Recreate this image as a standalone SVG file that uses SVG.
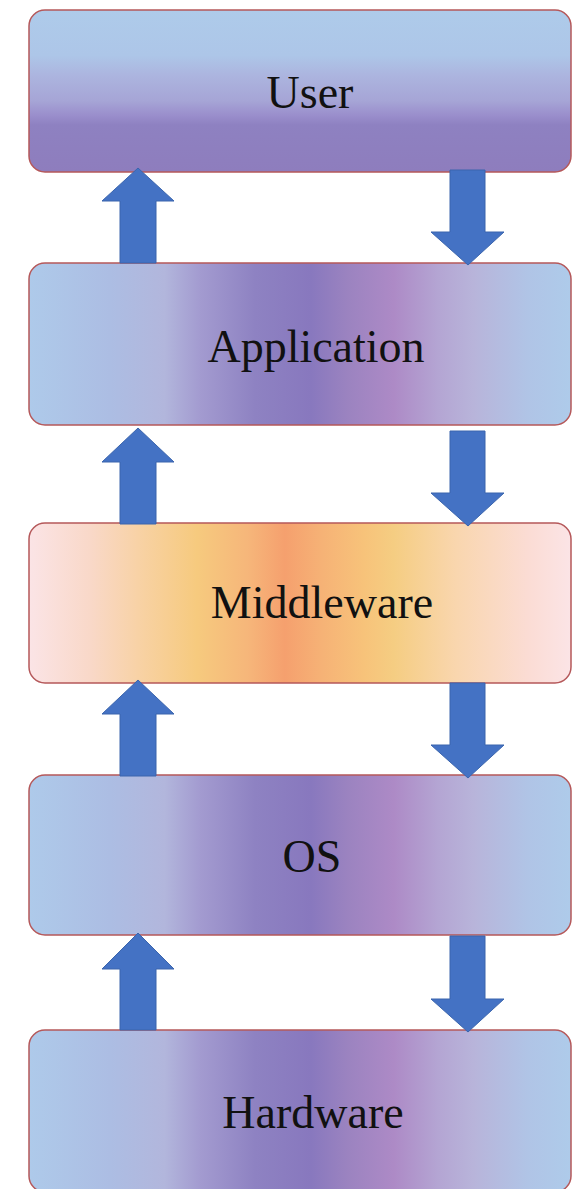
<svg xmlns="http://www.w3.org/2000/svg" width="572" height="1189" viewBox="0 0 572 1189">
<style>
.box{stroke:#b5585a;stroke-width:1.5}
.lbl{font-family:"Liberation Serif",serif;font-size:46px;fill:#111;text-anchor:middle}
.arr{fill:#4472c4;stroke:#3b65ad;stroke-width:1}
</style>
<defs>
<linearGradient id="gUser" x1="0" y1="0" x2="0" y2="1">
<stop offset="0" stop-color="#aecbea"/>
<stop offset="0.28" stop-color="#adc6e8"/>
<stop offset="0.4" stop-color="#acb5df"/>
<stop offset="0.56" stop-color="#a6a5d6"/>
<stop offset="0.65" stop-color="#9a8ecc"/>
<stop offset="0.71" stop-color="#8e81c1"/>
<stop offset="1" stop-color="#8e7dbd"/>
</linearGradient>
<linearGradient id="gBlue" x1="0" y1="0" x2="1" y2="0">
<stop offset="0" stop-color="#aecaea"/>
<stop offset="0.15" stop-color="#acbde3"/>
<stop offset="0.25" stop-color="#b2b6dc"/>
<stop offset="0.315" stop-color="#a39bd0"/>
<stop offset="0.417" stop-color="#8e82c2"/>
<stop offset="0.52" stop-color="#8878be"/>
<stop offset="0.587" stop-color="#9b83c0"/>
<stop offset="0.673" stop-color="#ad8ac6"/>
<stop offset="0.755" stop-color="#b4a5d3"/>
<stop offset="0.82" stop-color="#b8b4da"/>
<stop offset="0.92" stop-color="#b0c4e6"/>
<stop offset="1" stop-color="#aecbea"/>
</linearGradient>
<linearGradient id="gMid" x1="0" y1="0" x2="1" y2="0">
<stop offset="0" stop-color="#fbe4e6"/>
<stop offset="0.114" stop-color="#f9d8c8"/>
<stop offset="0.2" stop-color="#f8d2a6"/>
<stop offset="0.31" stop-color="#f6ca7e"/>
<stop offset="0.404" stop-color="#f6b67a"/>
<stop offset="0.472" stop-color="#f5a06e"/>
<stop offset="0.54" stop-color="#f6b276"/>
<stop offset="0.62" stop-color="#f7c37a"/>
<stop offset="0.673" stop-color="#f5cd82"/>
<stop offset="0.788" stop-color="#f9d6ae"/>
<stop offset="0.92" stop-color="#fbdcd4"/>
<stop offset="1" stop-color="#fbe4e6"/>
</linearGradient>
</defs>
<rect width="572" height="1189" fill="#ffffff"/>
<g id="user">
<rect class="box" x="29" y="10" width="542" height="162" rx="16" fill="url(#gUser)"/>
<text class="lbl" x="310" y="108">User</text>
</g>
<g id="application">
<rect class="box" x="29" y="263" width="542" height="162" rx="16" fill="url(#gBlue)"/>
<text class="lbl" x="316" y="362">Application</text>
</g>
<g id="middleware">
<rect class="box" x="29" y="523" width="542" height="160" rx="16" fill="url(#gMid)"/>
<text class="lbl" x="322" y="618">Middleware</text>
</g>
<g id="os">
<rect class="box" x="29" y="775" width="542" height="160" rx="16" fill="url(#gBlue)"/>
<text class="lbl" x="312" y="872">OS</text>
</g>
<g id="hardware">
<rect class="box" x="29" y="1030" width="542" height="162" rx="16" fill="url(#gBlue)"/>
<text class="lbl" x="313" y="1128">Hardware</text>
</g>
<g id="connectors">
<polygon class="arr" points="138,168 174,201 156,201 156,263 120,263 120,201 102,201"/>
<polygon class="arr" points="450,170 485,170 485,232 504,232 468,265 431,232 450,232"/>
<polygon class="arr" points="138,428 174,462 156,462 156,524 120,524 120,462 102,462"/>
<polygon class="arr" points="450,431 485,431 485,493 504,493 468,526 431,493 450,493"/>
<polygon class="arr" points="138,680 174,714 156,714 156,776 120,776 120,714 102,714"/>
<polygon class="arr" points="450,683 485,683 485,745 504,745 468,778 431,745 450,745"/>
<polygon class="arr" points="138,933 174,969 156,969 156,1030 120,1030 120,969 102,969"/>
<polygon class="arr" points="450,936 485,936 485,999 504,999 468,1032 431,999 450,999"/>
</g>
</svg>
